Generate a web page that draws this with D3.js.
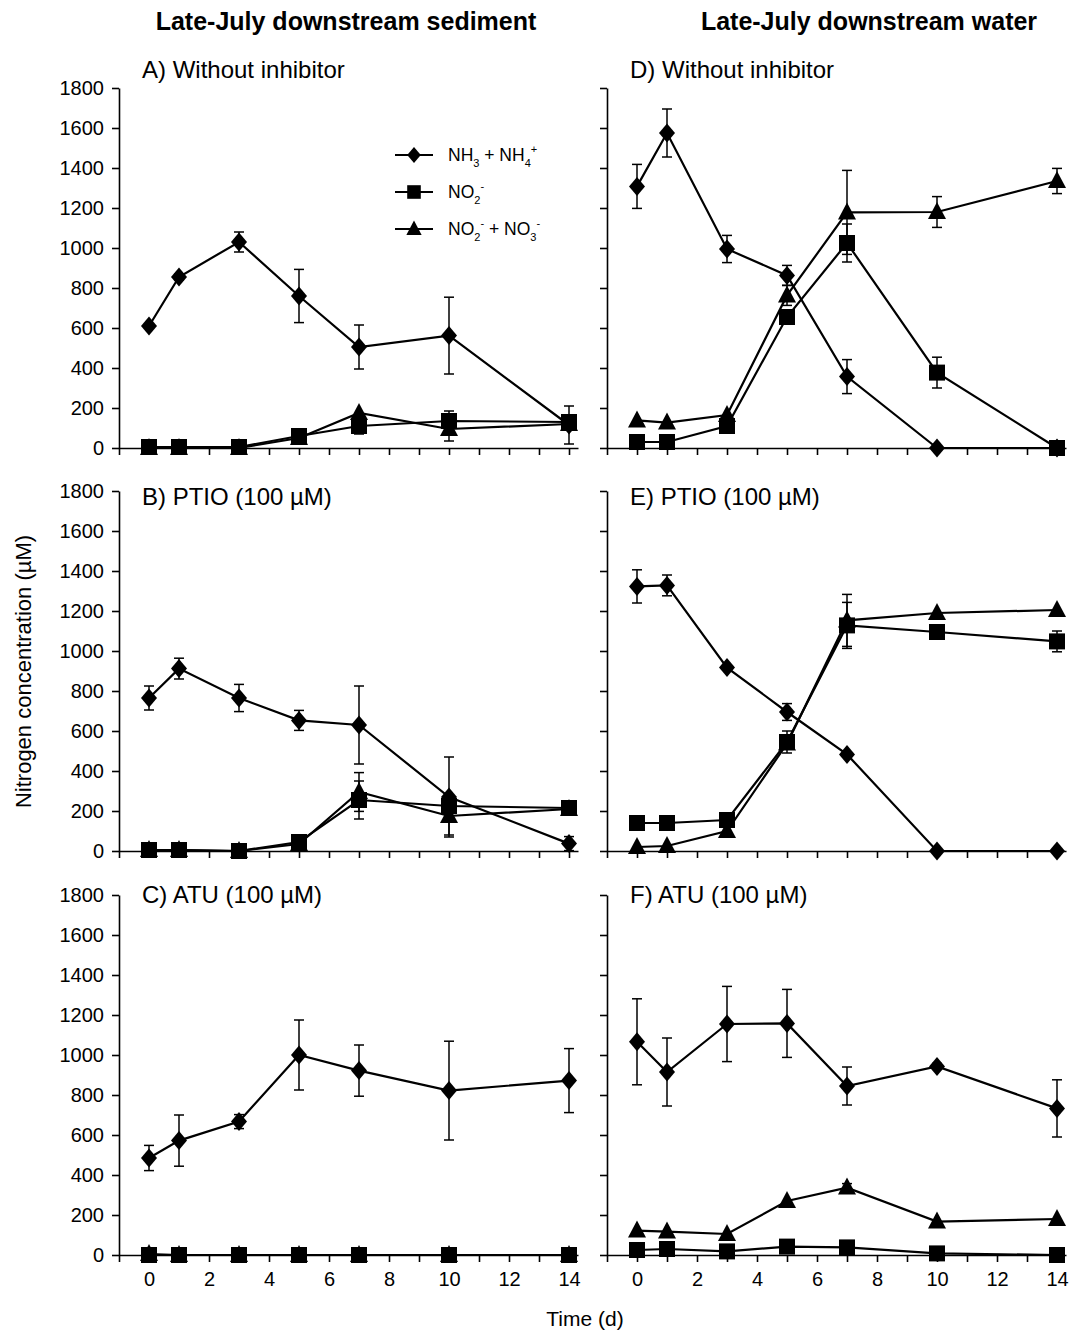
<!DOCTYPE html>
<html>
<head>
<meta charset="utf-8">
<script src="https://cdn.jsdelivr.net/npm/d3@7"></script>
<style>
  body { margin: 0; background: #fff; }
  text { font-family: "Liberation Sans", Arial, Helvetica, sans-serif; fill: #000; }
</style>
</head>
<body>
<div id="chart"></div>
<script>
// sampling days
var days = [0, 1, 3, 5, 7, 10, 14];
var yTicks = [0, 200, 400, 600, 800, 1000, 1200, 1400, 1600, 1800];
var xTicks = [-1, 0, 1, 2, 3, 4, 5, 6, 7, 8, 9, 10, 11, 12, 13, 14];
var xTickLabels = [0, 2, 4, 6, 8, 10, 12, 14];
var columnTitles = ["Late-July downstream sediment", "Late-July downstream water"];
var panelLabels = ["A) Without inhibitor", "B) PTIO (100 µM)", "C) ATU (100 µM)",
                   "D) Without inhibitor", "E) PTIO (100 µM)", "F) ATU (100 µM)"];

// A) sediment, without inhibitor
var nhA = [610, 855, 1030, 760, 505, 562, 115];
var nhAErr = [0, 15, 50, 133, 110, 192, 95];
var no2A = [5, 5, 5, 60, 110, 135, 130];
var no2AErr = [0, 0, 0, 0, 40, 50, 0];
var noxA = [0, 0, 0, 50, 175, 95, 120];
var noxAErr = [0, 0, 0, 0, 0, 60, 0];

// B) sediment, PTIO
var nhB = [765, 912, 765, 653, 630, 270, 37];
var nhBErr = [60, 52, 68, 50, 195, 200, 35];
var no2B = [5, 5, 0, 45, 255, 225, 215];
var no2BErr = [0, 0, 0, 0, 95, 0, 0];
var noxB = [5, 5, 0, 35, 295, 175, 210];
var noxBErr = [0, 0, 0, 0, 97, 95, 0];

// C) sediment, ATU
var nhC = [485, 572, 667, 1000, 922, 822, 872];
var nhCErr = [63, 128, 35, 175, 128, 247, 160];
var no2C = [0, 0, 0, 0, 0, 0, 0];
var no2CErr = [0, 0, 0, 0, 0, 0, 0];
var noxC = [5, 0, 0, 0, 0, 0, 0];
var noxCErr = [0, 0, 0, 0, 0, 0, 0];

// D) water, without inhibitor
var nhD = [1308, 1575, 995, 863, 357, 0, 0];
var nhDErr = [110, 120, 68, 50, 85, 0, 0];
var no2D = [30, 30, 110, 655, 1025, 377, 0];
var no2DErr = [0, 0, 0, 30, 95, 77, 0];
var noxD = [138, 127, 165, 763, 1178, 1180, 1335];
var noxDErr = [0, 0, 0, 50, 210, 77, 63];

// E) water, PTIO
var nhE = [1323, 1328, 917, 695, 483, 0, 0];
var nhEErr = [83, 52, 0, 42, 0, 0, 0];
var no2E = [140, 140, 155, 545, 1128, 1095, 1048];
var no2EErr = [0, 0, 0, 55, 115, 0, 52];
var noxE = [20, 25, 100, 537, 1153, 1190, 1205];
var noxEErr = [0, 0, 0, 0, 130, 0, 0];

// F) water, ATU
var nhF = [1066, 915, 1155, 1158, 845, 943, 733];
var nhFErr = [215, 170, 188, 170, 95, 15, 143];
var no2F = [25, 30, 18, 42, 38, 8, 0];
var no2FErr = [0, 0, 0, 0, 0, 0, 0];
var noxF = [122, 117, 105, 270, 337, 167, 180];
var noxFErr = [0, 0, 0, 0, 20, 0, 0];

var panels = [
  { col: 0, row: 0, label: panelLabels[0], nh: nhA, nhErr: nhAErr, no2: no2A, no2Err: no2AErr, nox: noxA, noxErr: noxAErr, legend: true },
  { col: 0, row: 1, label: panelLabels[1], nh: nhB, nhErr: nhBErr, no2: no2B, no2Err: no2BErr, nox: noxB, noxErr: noxBErr },
  { col: 0, row: 2, label: panelLabels[2], nh: nhC, nhErr: nhCErr, no2: no2C, no2Err: no2CErr, nox: noxC, noxErr: noxCErr },
  { col: 1, row: 0, label: panelLabels[3], nh: nhD, nhErr: nhDErr, no2: no2D, no2Err: no2DErr, nox: noxD, noxErr: noxDErr },
  { col: 1, row: 1, label: panelLabels[4], nh: nhE, nhErr: nhEErr, no2: no2E, no2Err: no2EErr, nox: noxE, noxErr: noxEErr },
  { col: 1, row: 2, label: panelLabels[5], nh: nhF, nhErr: nhFErr, no2: no2F, no2Err: no2FErr, nox: noxF, noxErr: noxFErr }
];

var width = 1072, height = 1333;
var colX = [119, 607];
var rowY = [88, 491, 895];
var plotH = 360;
var dayW = 30;
var labelLift = [10, -14, -8];
var titleX = [346, 869];

var svg = d3.select("#chart").append("svg")
  .attr("width", width)
  .attr("height", height);

function marker(shape) {
  if (shape == "diamond") return "M0,-9.5L8,0L0,9.5L-8,0Z";
  if (shape == "square") return "M-8,-8H8V8H-8Z";
  return "M0,-10L9,7H-9Z";
}

function drawPanel(p) {
  var x = d3.scaleLinear().domain([-1, 14.3]).range([colX[p.col], colX[p.col] + 15.3 * dayW]);
  var y = d3.scaleLinear().domain([0, 1800]).range([rowY[p.row] + plotH, rowY[p.row]]);
  var g = svg.append("g");

  var yAxis = d3.axisLeft(y).tickValues(yTicks).tickSize(7).tickSizeOuter(0).tickPadding(8)
    .tickFormat(d3.format("d"));
  if (p.col == 1) yAxis.tickFormat("");
  var ya = g.append("g")
    .attr("transform", "translate(" + x(-1) + ",0)")
    .call(yAxis);

  var xAxis = d3.axisBottom(x).tickValues(xTicks).tickSize(7).tickSizeOuter(0).tickPadding(10)
    .tickFormat(function(d) {
      return (p.row == 2 && xTickLabels.indexOf(d) >= 0) ? d : "";
    });
  var xa = g.append("g")
    .attr("transform", "translate(0," + y(0) + ")")
    .call(xAxis);

  [ya, xa].forEach(function(a) {
    a.attr("font-family", null).attr("font-size", 20);
    a.selectAll("path, line").attr("stroke", "#000").attr("stroke-width", 1.6);
    a.selectAll("text").attr("fill", "#000");
  });

  g.append("text")
    .attr("x", colX[p.col] + 23)
    .attr("y", rowY[p.row] - labelLift[p.row])
    .attr("font-size", 24)
    .text(p.label);

  var series = [
    { vals: p.nh, err: p.nhErr, shape: "diamond" },
    { vals: p.no2, err: p.no2Err, shape: "square" },
    { vals: p.nox, err: p.noxErr, shape: "triangle" }
  ];

  var line = d3.line()
    .x(function(d, i) { return x(days[i]); })
    .y(function(d) { return y(d); });

  series.forEach(function(s) {
    s.vals.forEach(function(v, i) {
      var e = s.err[i];
      if (!e) return;
      var cx = x(days[i]);
      var lo = y(Math.max(0, v - e)), hi = y(v + e);
      g.append("line").attr("x1", cx).attr("x2", cx).attr("y1", lo).attr("y2", hi)
        .attr("stroke", "#000").attr("stroke-width", 1.5);
      [lo, hi].forEach(function(yy) {
        g.append("line").attr("x1", cx - 5).attr("x2", cx + 5).attr("y1", yy).attr("y2", yy)
          .attr("stroke", "#000").attr("stroke-width", 1.5);
      });
    });
  });

  series.forEach(function(s) {
    g.append("path")
      .datum(s.vals)
      .attr("d", line)
      .attr("fill", "none")
      .attr("stroke", "#000")
      .attr("stroke-width", 2.2);
  });

  series.forEach(function(s) {
    g.selectAll(null)
      .data(s.vals)
      .enter().append("path")
      .attr("d", marker(s.shape))
      .attr("transform", function(d, i) { return "translate(" + x(days[i]) + "," + y(d) + ")"; })
      .attr("fill", "#000");
  });

  if (p.legend) drawLegend(g);
}

function drawLegend(g) {
  var rows = [
    { shape: "diamond", parts: [["NH", 0], ["3", 1], [" + NH", 0], ["4", 1], ["+", -1]] },
    { shape: "square", parts: [["NO", 0], ["2", 1], ["-", -1]] },
    { shape: "triangle", parts: [["NO", 0], ["2", 1], ["-", -1], [" + NO", 0], ["3", 1], ["-", -1]] }
  ];
  rows.forEach(function(r, k) {
    var yy = 155 + k * 37;
    g.append("line").attr("x1", 395).attr("x2", 433).attr("y1", yy).attr("y2", yy)
      .attr("stroke", "#000").attr("stroke-width", 2.2);
    g.append("path").attr("d", marker(r.shape))
      .attr("transform", "translate(414," + yy + ") scale(0.85)")
      .attr("fill", "#000");
    var t = g.append("text").attr("x", 448).attr("y", yy + 6).attr("font-size", 17.5);
    var shift = 0;
    r.parts.forEach(function(pt) {
      var want = pt[1] == 1 ? 6 : (pt[1] == -1 ? -8 : 0);
      t.append("tspan")
        .attr("dy", want - shift)
        .attr("font-size", pt[1] == 0 ? 17.5 : 11)
        .text(pt[0]);
      shift = want;
    });
  });
}

panels.forEach(drawPanel);

columnTitles.forEach(function(t, i) {
  svg.append("text")
    .attr("x", titleX[i])
    .attr("y", 30)
    .attr("text-anchor", "middle")
    .attr("font-size", 25)
    .attr("font-weight", "bold")
    .text(t);
});

svg.append("text")
  .attr("transform", "translate(31," + ((rowY[0] + rowY[2] + plotH) / 2) + ") rotate(-90)")
  .attr("text-anchor", "middle")
  .attr("font-size", 22)
  .text("Nitrogen concentration (µM)");

svg.append("text")
  .attr("x", 585)
  .attr("y", 1326)
  .attr("text-anchor", "middle")
  .attr("font-size", 21)
  .text("Time (d)");
</script>
</body>
</html>
